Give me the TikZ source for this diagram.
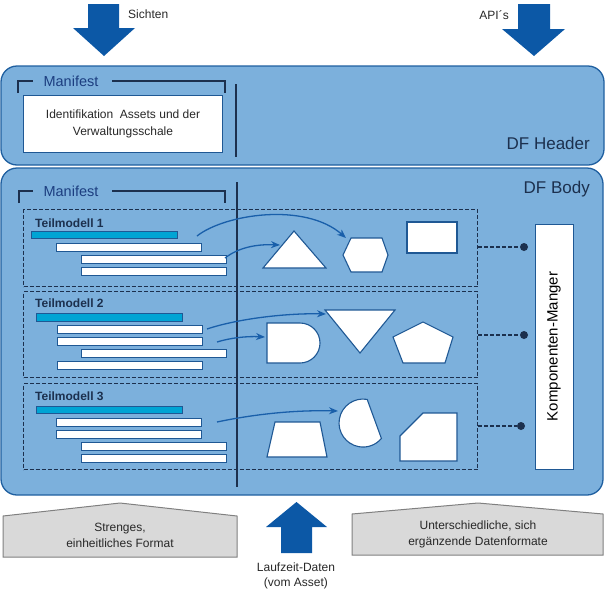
\documentclass[tikz,border=0pt]{standalone}
\usepackage{fontspec}
\setmainfont{Liberation Sans}
\usetikzlibrary{positioning, arrows.meta}

\definecolor{panelfill}{RGB}{124,176,220}
\definecolor{panelline}{RGB}{31,95,160}
\definecolor{arrowblue}{RGB}{12,88,166}
\definecolor{flowblue}{RGB}{25,95,170}
\definecolor{barcyan}{RGB}{0,164,212}
\definecolor{barline}{RGB}{31,88,148}
\definecolor{navy}{RGB}{28,48,78}
\definecolor{mfblue}{RGB}{28,62,128}
\definecolor{txt}{RGB}{40,40,40}
\definecolor{housefill}{RGB}{217,217,217}
\definecolor{housegray}{RGB}{128,128,128}

\begin{document}
\begin{tikzpicture}[x = 1pt, y = -1pt,
    every node/.style = {inner sep = 0pt, align = center, text = txt, font = \fontsize{12}{16}\selectfont},
    panel/.style = {draw = panelline, fill = panelfill, line width = 1.3pt, rounded corners = 16pt},
    bigarrow/.style = {fill = arrowblue},
    house/.style = {draw = housegray, fill = housefill, line width = 1pt},
    brk/.style = {draw = navy, line width = 1.1pt},
    mflabel/.style = {text = mfblue, font = \fontsize{14.5}{16}\selectfont},
    dflabel/.style = {anchor = east, text = navy, font = \fontsize{17}{20}\selectfont},
    tbox/.style = {draw = navy, dash pattern = on 4pt off 2pt, line width = 1.1pt, minimum width = 454pt, anchor = north west},
    cbar/.style = {draw = barline, fill = barcyan, line width = 1pt, minimum width = 146pt, minimum height = 7pt, anchor = north west},
    wbar/.style = {draw = barline, fill = white, line width = 1pt, minimum width = 145pt, minimum height = 8pt, anchor = north west},
    form/.style = {draw = barline, fill = white, line width = 1.1pt},
    flow/.style = {draw = flowblue, line width = 1.3pt, -{Stealth[length = 9pt, width = 7pt]}},
    link/.style = {draw = navy, dash pattern = on 4pt off 2pt, line width = 1.1pt},
    enddot/.style = {circle, fill = navy, minimum size = 8pt},
    tlabel/.style = {anchor = west, text = navy, font = \fontsize{12}{14}\selectfont\bfseries}]

    \useasboundingbox (0,0) rectangle (605,600);

    % input arrows
    \fill[bigarrow] (88,4) -- (119,4) -- (119,28) -- (135,28) -- (104,56) -- (73,28) -- (88,28) -- cycle;
    \node (sichten) [anchor = west] at (128,14) {Sichten};
    \fill[bigarrow] (518,4) -- (550,4) -- (550,29) -- (565,29) -- (534,56) -- (502,29) -- (518,29) -- cycle;
    \node (apis) [anchor = east] at (509,15) {API´s};

    % header
    \draw[panel] (1,66) rectangle (604,165);
    \node (mfhead) [mflabel] at (71,81) {Manifest};
    \draw[brk] (18,93) |- (33,81);
    \draw[brk] (112,81) -| (225,93);
    \draw[brk] (236,84) -- (236,157);
    \node (idbox) [draw = barline, fill = white, line width = 1pt, minimum width = 199pt, minimum height = 57pt,
        anchor = north west, font = \fontsize{12}{17}\selectfont] at (23,95) {Identifikation\ \ Assets und der\\Verwaltungsschale};
    \node (dfhead) [dflabel] at (590,143) {DF Header};

    % body
    \draw[panel] (1,168) rectangle (603,495);
    \node (dfbody) [dflabel] at (590,189) {DF Body};
    \node (mfbody) [mflabel] at (71,191) {Manifest};
    \draw[brk] (19,203) |- (33,191);
    \draw[brk] (112,191) -| (225,203);

    \node (tm1) [tbox, minimum height = 77pt] at (23,209) {};
    \node (tm2) [tbox, minimum height = 86pt] at (23,291) {};
    \node (tm3) [tbox, minimum height = 86pt] at (23,383) {};
    \draw[brk] (237,182) -- (237,487);

    \node (t1) [tlabel] at (35,223) {Teilmodell\ 1};
    \node (t2) [tlabel] at (35,303) {Teilmodell\ 2};
    \node (t3) [tlabel] at (35,396) {Teilmodell\ 3};

    \node (c1) [cbar] at (31,231) {};
    \node (c2) [cbar, minimum height = 8pt] at (36,313) {};
    \node (c3) [cbar] at (36,406) {};
    \foreach \n/\x/\y in {b1a/56/243, b1b/81/255, b1c/81/267,
                          b2a/57/325, b2b/57/337, b2c/81/349, b2d/57/361,
                          b3a/56/418, b3b/56/430, b3c/81/442, b3d/81/454}
        \node (\n) [wbar] at (\x,\y) {};

    % forms
    \draw[form] (263,268) -- (294,231) -- (326,268) -- cycle;
    \draw[form] (343,255) -- (351,238) -- (382,238) -- (388,255) -- (382,272) -- (351,272) -- cycle;
    \draw[form] (407,222) rectangle (457,253);
    \draw[form] (267,323) -- (300,323) arc[start angle = -90, end angle = 90, radius = 20] -- (267,363) -- cycle;
    \draw[form] (325,310) -- (395,310) -- (360,353) -- cycle;
    \draw[form] (423,322) -- (453,337) -- (445,363) -- (403,363) -- (393,337) -- cycle;
    \draw[form] (267,457) -- (275,422) -- (320,422) -- (327,457) -- cycle;
    \draw[form] (367.2,399.4) arc[start angle = -80, end angle = -320, radius = 24] -- cycle;
    \draw[form] (400,461) -- (400,436) -- (423,413) -- (457,413) -- (457,461) -- cycle;

    % flows
    \coordinate (s1) at (197,236);  \coordinate (e1) at (346,238);
    \coordinate (s2) at (225,258);  \coordinate (e2) at (280,245);
    \coordinate (s3) at (207,329);  \coordinate (e3) at (326,314);
    \coordinate (s4) at (217,342);  \coordinate (e4) at (265,337);
    \coordinate (s5) at (217,422);  \coordinate (e5) at (338,411);
    \draw[flow] (s1) .. controls (225,214) and (305,202) .. (e1);
    \draw[flow] (s2) .. controls (238,248) and (255,244) .. (e2);
    \draw[flow] (s3) .. controls (240,318) and (290,313) .. (e3);
    \draw[flow] (s4) .. controls (230,338) and (246,336) .. (e4);
    \draw[flow] (s5) .. controls (260,413) and (300,410) .. (e5);

    % component manager
    \node (km) [draw = barline, fill = white, line width = 1pt, rotate = 90, minimum width = 245pt, minimum height = 38pt,
        text = black, font = \fontsize{15}{18}\selectfont] at (554,346.5) {Komponenten-Manger};
    \node (d1) [enddot] at (524,247) {};
    \node (d2) [enddot] at (524,335) {};
    \node (d3) [enddot] at (521,426) {};
    \draw[link] (tm1.east |- d1) -- (d1);
    \draw[link] (tm2.east |- d2) -- (d2);
    \draw[link] (tm3.east |- d3) -- (d3);

    % bottom
    \draw[house] (3,557) -- (3,516) -- (120,503) -- (237,516) -- (237,557) -- cycle;
    \node (strict) at (120,535) {Strenges,\\einheitliches Format};
    \draw[house] (352,555) -- (352,514) -- (478,503) -- (603,514) -- (603,555) -- cycle;
    \node (mixed) at (478,534) {Unterschiedliche, sich\\ergänzende Datenformate};
    \fill[bigarrow] (281,553) -- (312,553) -- (312,527) -- (327,527) -- (296.5,502) -- (266,527) -- (281,527) -- cycle;
    \node (runtime) [font = \fontsize{12}{15}\selectfont] at (296,576) {Laufzeit-Daten\\(vom Asset)};
\end{tikzpicture}
\end{document}
